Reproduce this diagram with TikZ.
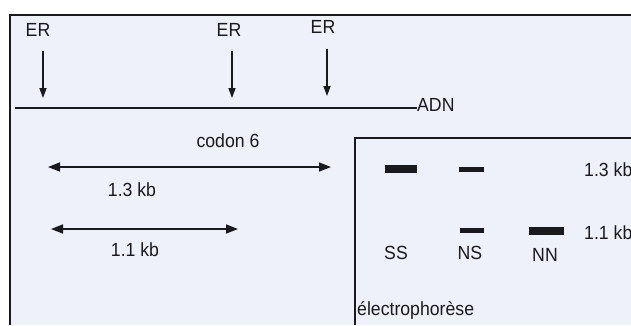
\documentclass[tikz,border=0pt]{standalone}
\usepackage{fontspec}
\setmainfont{Liberation Sans}[FakeStretch=0.93]
\usetikzlibrary{arrows.meta}
\definecolor{bgcol}{RGB}{238,240,250}
\definecolor{ink}{RGB}{25,25,30}
\begin{document}
\begin{tikzpicture}[x=1pt,y=-1pt,
  lbl/.style={inner sep=0pt,text=ink,font=\fontsize{19}{21}\selectfont},
  frame/.style={draw=ink,line width=2pt},
  cut/.style={draw=ink,line width=1.6pt,-{Triangle[length=10pt,width=7pt]}},
  span/.style={draw=ink,line width=1.6pt,{Triangle[length=12pt,width=9pt]}-{Triangle[length=12pt,width=9pt]}},
  band/.style={fill=ink,inner sep=0pt,minimum height=#1},
]
\useasboundingbox (0,0) rectangle (631,325);
\fill[white] (0,0) rectangle (631,325);
\fill[bgcol] (10,15) rectangle (631,325);
% outer frame
\coordinate (oTL) at (10,15);
\draw[frame] (10,325) -- (oTL) -- (631,15);
% inner box
\draw[frame] (355,325) -- (355,138) -- (631,138);

% ER labels and arrows
\node[lbl] (er1) at (38,30) {ER};
\node[lbl] (er2) at (229,30) {ER};
\node[lbl] (er3) at (323,27) {ER};
\coordinate (a1s) at (43,51);  \coordinate (a1e) at (43,98);
\coordinate (a2s) at (232,51); \coordinate (a2e) at (232,98);
\coordinate (a3s) at (327,49); \coordinate (a3e) at (327,96);
\draw[cut] (a1s) -- (a1e);
\draw[cut] (a2s) -- (a2e);
\draw[cut] (a3s) -- (a3e);

% DNA line
\node[lbl,anchor=west] (adn) at (417,105) {ADN};
\coordinate (dnaL) at (15,108);
\draw[draw=ink,line width=2pt] (dnaL) -- (dnaL -| adn.west);

% fragments
\node[lbl] (codon) at (228,141) {codon 6};
\coordinate (f1l) at (48,167); \coordinate (f1r) at (331,167);
\draw[span] (f1l) -- (f1r);
\node[lbl] (k13) at (132,190) {1.3 kb};
\coordinate (f2l) at (51,229); \coordinate (f2r) at (238,229);
\draw[span] (f2l) -- (f2r);
\node[lbl] (k11) at (135,250) {1.1 kb};

% electrophoresis bands
\node[band=8pt,minimum width=32pt] (ssT) at (401,169) {};
\node[band=5pt,minimum width=25pt] (nsT) at (471,169) {};
\node[band=5pt,minimum width=24pt] (nsB) at (472,230) {};
\node[band=8pt,minimum width=35pt] (nnB) at (546,231) {};
\node[lbl,anchor=west] (r13) at (584,170) {1.3 kb};
\node[lbl,anchor=west] (r11) at (584,233) {1.1 kb};
\node[lbl] (ss) at (396,253) {SS};
\node[lbl] (ns) at (470,253) {NS};
\node[lbl] (nn) at (545,255) {NN};
\node[lbl,anchor=west] (elec) at (357,310) {électrophorèse};
\end{tikzpicture}
\end{document}
